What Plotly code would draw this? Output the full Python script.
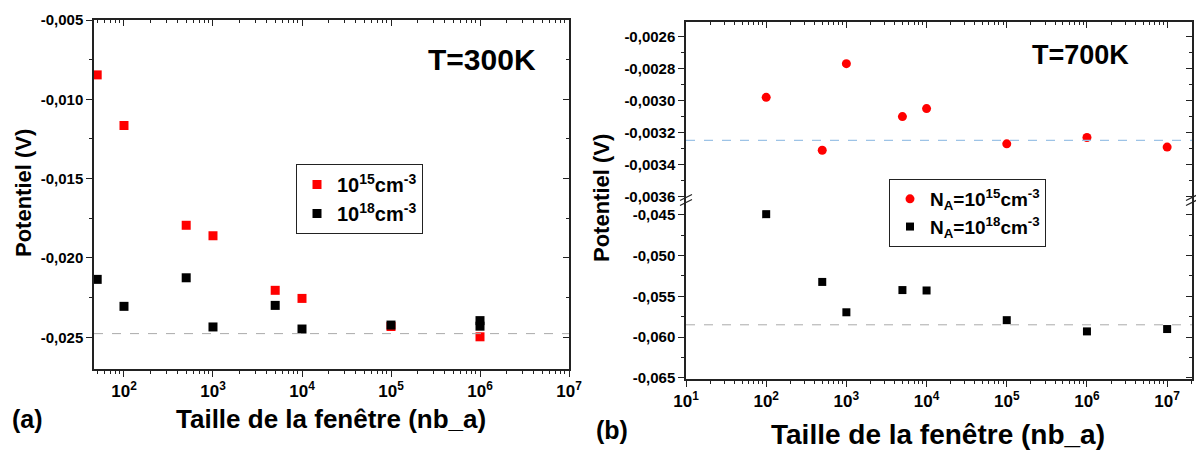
import plotly.graph_objects as go

# (a) T=300K
x_a = [50, 100, 500, 1000, 5000, 10000, 100000, 1000000]
y_a_15 = [-0.00846, -0.01165, -0.01794, -0.01860, -0.02204, -0.02255, -0.02432, -0.02497]
x_a_18 = [50, 100, 500, 1000, 5000, 10000, 100000, 1000000, 1000000]
y_a_18 = [-0.02135, -0.02305, -0.02125, -0.02435, -0.02299, -0.02448, -0.02423, -0.02395, -0.02430]
ref_a = -0.02477

# (b) T=700K
x_b = [100, 500, 1000, 5000, 10000, 100000, 1000000, 10000000]
y_b_15 = [-0.00298, -0.00331, -0.00277, -0.00310, -0.00305, -0.00327, -0.00323, -0.00329]
y_b_18 = [-0.0449, -0.05323, -0.05696, -0.05423, -0.05428, -0.05793, -0.05931, -0.05902]
ref_b_15 = -0.003248
ref_b_18 = -0.0585

xticks_a = [100, 1000, 10000, 100000, 1000000, 10000000]
xlabels_a = ['10<sup>2</sup>', '10<sup>3</sup>', '10<sup>4</sup>', '10<sup>5</sup>', '10<sup>6</sup>', '10<sup>7</sup>']
xticks_b = [10, 100, 1000, 10000, 100000, 1000000, 10000000]
xlabels_b = ['10<sup>1</sup>'] + xlabels_a
yticks_a = [-0.005, -0.010, -0.015, -0.020, -0.025]
ylabels_a = ['-0,005', '-0,010', '-0,015', '-0,020', '-0,025']
yticks_b_up = [-0.0026, -0.0028, -0.0030, -0.0032, -0.0034, -0.0036]
ylabels_b_up = ['-0,0026', '-0,0028', '-0,0030', '-0,0032', '-0,0034', '-0,0036']
yticks_b_lo = [-0.045, -0.050, -0.055, -0.060, -0.065]
ylabels_b_lo = ['-0,045', '-0,050', '-0,055', '-0,060', '-0,065']

W, H = 1196, 450
FONT = 'Liberation Sans, Arial, sans-serif'


def px(v):
    return v / W


def py(v):
    return 1 - v / H


fig = go.Figure()

fig.add_trace(go.Scatter(x=x_a, y=y_a_15, mode='markers', name='10<sup>15</sup>cm<sup>-3</sup>',
                         marker=dict(symbol='square', size=9, color='#ff0000'),
                         xaxis='x', yaxis='y', legend='legend'))
fig.add_trace(go.Scatter(x=x_a_18, y=y_a_18, mode='markers', name='10<sup>18</sup>cm<sup>-3</sup>',
                         marker=dict(symbol='square', size=9, color='#000000'),
                         xaxis='x', yaxis='y', legend='legend'))
fig.add_trace(go.Scatter(x=x_b, y=y_b_15, mode='markers', name='N<sub>A</sub>=10<sup>15</sup>cm<sup>-3</sup>',
                         marker=dict(symbol='circle', size=9, color='#ff0000'),
                         xaxis='x2', yaxis='y2', legend='legend2'))
fig.add_trace(go.Scatter(x=x_b, y=y_b_18, mode='markers', name='N<sub>A</sub>=10<sup>18</sup>cm<sup>-3</sup>',
                         marker=dict(symbol='square', size=8, color='#000000'),
                         xaxis='x2', yaxis='y3', legend='legend2'))

line = dict(showline=True, linecolor='#222', linewidth=1.5, showgrid=False, zeroline=False)
tickfont = dict(family=FONT, size=15, color='black', weight='bold')
xtickfont = dict(family=FONT, size=17, color='black', weight='bold')

xa_dom = [px(94), px(569)]
xb_dom = [px(686), px(1192)]
ya_dom = [py(369), py(20)]
yb_up = [py(200), py(22)]
yb_lo = [py(379), py(200)]
xa_rng = [1.663, 7]
xb_rng = [1, 7.31]
ya_rng = [-0.027, -0.005]
yb_up_rng = [-0.00362, -0.00251]
yb_lo_rng = [-0.06516, -0.04316]

minor_log_out = dict(ticks='outside', ticklen=3, tickcolor='#222', showgrid=False, dtick='D1')
minor_log_in = dict(ticks='inside', ticklen=3, tickcolor='#222', showgrid=False, dtick='D1')

fig.update_layout(
    width=W, height=H, margin=dict(l=0, r=0, t=0, b=0, autoexpand=False),
    plot_bgcolor='white', paper_bgcolor='white',
    font=dict(family=FONT, color='black'),
    # left panel
    xaxis=dict(domain=xa_dom, anchor='y', type='log', range=xa_rng, tickmode='array',
               tickvals=xticks_a, ticktext=xlabels_a,
               ticks='outside', ticklen=6, tickcolor='#222', tickfont=xtickfont,
               minor=minor_log_out, **line),
    yaxis=dict(domain=ya_dom, anchor='x', range=ya_rng, tickmode='array',
               tickvals=yticks_a, ticktext=ylabels_a,
               ticks='outside', ticklen=6, tickcolor='#222', tickfont=tickfont,
               minor=dict(ticks='outside', ticklen=3, dtick=0.0025, tick0=0, tickcolor='#222'), **line),
    xaxis3=dict(overlaying='x', anchor='y', side='top', type='log', range=xa_rng, dtick=1,
                ticks='inside', ticklen=6, tickcolor='#222', showticklabels=False,
                minor=minor_log_in, **line),
    yaxis4=dict(overlaying='y', anchor='x', side='right', range=ya_rng, dtick=0.005, tick0=0,
                ticks='inside', ticklen=6, tickcolor='#222', showticklabels=False,
                minor=dict(ticks='inside', ticklen=3, dtick=0.0025, tick0=0, tickcolor='#222'), **line),
    # right panel
    xaxis2=dict(domain=xb_dom, anchor='y3', type='log', range=xb_rng, tickmode='array',
                tickvals=xticks_b, ticktext=xlabels_b,
                ticks='outside', ticklen=6, tickcolor='#222', tickfont=xtickfont,
                minor=minor_log_out, **line),
    xaxis4=dict(overlaying='x2', anchor='y2', side='top', type='log', range=xb_rng, dtick=1,
                ticks='inside', ticklen=6, tickcolor='#222', showticklabels=False,
                minor=minor_log_in, **line),
    yaxis2=dict(domain=yb_up, anchor='x2', range=yb_up_rng, tickmode='array',
                tickvals=yticks_b_up, ticktext=ylabels_b_up,
                ticks='outside', ticklen=6, tickcolor='#222', tickfont=tickfont,
                minor=dict(ticks='outside', ticklen=3, dtick=0.0001, tick0=0, tickcolor='#222'), **line),
    yaxis3=dict(domain=yb_lo, anchor='x2', range=yb_lo_rng, tickmode='array',
                tickvals=yticks_b_lo, ticktext=ylabels_b_lo,
                ticks='outside', ticklen=6, tickcolor='#222', tickfont=tickfont,
                minor=dict(ticks='outside', ticklen=3, dtick=0.0025, tick0=0, tickcolor='#222'), **line),
    yaxis5=dict(overlaying='y2', anchor='x2', side='right', range=yb_up_rng, dtick=0.0002, tick0=0,
                ticks='inside', ticklen=6, tickcolor='#222', showticklabels=False,
                minor=dict(ticks='inside', ticklen=3, dtick=0.0001, tick0=0, tickcolor='#222'), **line),
    yaxis6=dict(overlaying='y3', anchor='x2', side='right', range=yb_lo_rng, dtick=0.005, tick0=0,
                ticks='inside', ticklen=6, tickcolor='#222', showticklabels=False,
                minor=dict(ticks='inside', ticklen=3, dtick=0.0025, tick0=0, tickcolor='#222'), **line),
    legend=dict(x=px(296), y=py(164), xanchor='left', yanchor='top',
                bordercolor='#222', borderwidth=1, bgcolor='white',
                font=dict(family=FONT, size=20, color='black', weight='bold')),
    legend2=dict(x=px(889), y=py(179), xanchor='left', yanchor='top',
                 bordercolor='#222', borderwidth=1, bgcolor='white',
                 font=dict(family=FONT, size=19, color='black', weight='bold')),
)

# dummy traces to make overlay axes render
for xa, ya, xs, ys in [('x3', 'y', x_a, y_a_15), ('x', 'y4', x_a, y_a_15),
                       ('x4', 'y2', x_b, y_b_15), ('x2', 'y5', x_b, y_b_15), ('x2', 'y6', x_b, y_b_18)]:
    fig.add_trace(go.Scatter(x=xs, y=ys, mode='markers', marker=dict(opacity=0), showlegend=False,
                             hoverinfo='skip', xaxis=xa, yaxis=ya))

# reference lines
fig.add_shape(type='line', xref='x domain', yref='y', x0=0, x1=1, y0=ref_a, y1=ref_a,
              line=dict(color='#aaaaaa', width=1, dash='dash'))
fig.add_shape(type='line', xref='x2 domain', yref='y2', x0=0, x1=1, y0=ref_b_15, y1=ref_b_15,
              line=dict(color='#9dc3e6', width=1.2, dash='dash'))
fig.add_shape(type='line', xref='x2 domain', yref='y3', x0=0, x1=1, y0=ref_b_18, y1=ref_b_18,
              line=dict(color='#aaaaaa', width=1, dash='dash'))

# axis break marks
for bx in (686, 1192):
    for dy in (-2.5, 2.5):
        fig.add_shape(type='line', xref='paper', yref='paper',
                      x0=px(bx - 6), x1=px(bx + 6), y0=py(203 + dy), y1=py(197 + dy),
                      line=dict(color='#222', width=1.2))

ann = dict(xref='paper', yref='paper', showarrow=False, xanchor='center', yanchor='middle')
annotations = [
    dict(x=px(482), y=py(59), text='<b>T=300K</b>', font=dict(family=FONT, size=30, color='black')),
    dict(x=px(1080), y=py(55), text='<b>T=700K</b>', font=dict(family=FONT, size=27, color='black')),
    dict(x=px(27), y=py(419), text='<b>(a)</b>', font=dict(family=FONT, size=25, color='black')),
    dict(x=px(612), y=py(430), text='<b>(b)</b>', font=dict(family=FONT, size=25, color='black')),
    dict(x=px(331), y=py(419), text='<b>Taille de la fenêtre (nb_a)</b>', font=dict(family=FONT, size=26, color='black')),
    dict(x=px(938), y=py(434), text='<b>Taille de la fenêtre (nb_a)</b>', font=dict(family=FONT, size=28, color='black')),
    dict(x=px(23), y=py(193), text='<b>Potentiel (V)</b>', textangle=-90, font=dict(family=FONT, size=22, color='black')),
    dict(x=px(602), y=py(198), text='<b>Potentiel (V)</b>', textangle=-90, font=dict(family=FONT, size=22, color='black')),
]
for a in annotations:
    fig.add_annotation(**{**ann, **a})

fig.write_html("out.html", config={'displayModeBar': False},
               post_script="document.body.style.margin='0';")
